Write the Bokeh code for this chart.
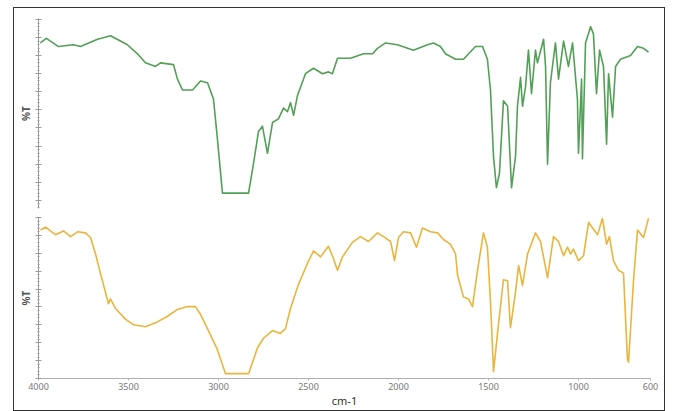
from bokeh.plotting import figure
from bokeh.layouts import column
from bokeh.models import Range1d, FixedTicker, SingleIntervalTicker, CustomJSTickFormatter
from bokeh.embed import file_html
from bokeh.resources import INLINE

# ---- data (wavenumber cm-1, %T) ----
green_wn = [3990, 3956, 3889, 3806, 3767, 3672, 3600, 3506, 3450, 3406, 3350, 3322, 3250, 3228,
            3200, 3144, 3100, 3061, 3028, 3006, 2978, 2833, 2806, 2778, 2756, 2728, 2700, 2667,
            2639, 2617, 2600, 2583, 2561, 2517, 2472, 2422, 2389, 2367, 2339, 2267, 2194, 2144,
            2117, 2072, 2006, 1917, 1839, 1806, 1767, 1739, 1683, 1639, 1572, 1533, 1506, 1489,
            1472, 1456, 1439, 1417, 1394, 1372, 1350, 1339, 1322, 1311, 1294, 1278, 1261, 1239,
            1228, 1194, 1183, 1172, 1156, 1128, 1111, 1083, 1056, 1033, 1006, 1000, 983, 978,
            961, 933, 917, 900, 883, 861, 844, 833, 811, 794, 767, 711, 672, 639, 611]
green_t = [87, 89.5, 85, 86, 85, 89, 91, 86, 81, 76, 74, 76, 75, 67,
           61, 61, 66, 65, 56, 34, 4, 4, 20, 38, 41, 26, 43, 45,
           51, 49, 54, 47, 58, 70, 73, 70, 71, 70, 78.5, 78.5, 81, 81,
           84, 87, 86, 83, 86, 87, 85, 81, 78, 78, 85, 85, 78, 61,
           24, 7, 15, 55, 52, 7, 24, 52, 68, 52, 63, 83, 59, 83,
           76, 89, 74, 20, 65, 87, 67, 88, 74, 87, 56, 26, 67, 23,
           87, 96, 92, 59, 83, 74, 31, 70, 46, 74, 78, 80, 85, 84, 82]

yellow_wn = [3989, 3961, 3906, 3861, 3822, 3783, 3739, 3711, 3683, 3656, 3628, 3611, 3600, 3572,
             3517, 3472, 3406, 3350, 3283, 3228, 3172, 3128, 3100, 3056, 3006, 2961, 2833, 2783,
             2750, 2700, 2656, 2628, 2600, 2556, 2506, 2472, 2433, 2389, 2361, 2339, 2311, 2256,
             2211, 2167, 2117, 2083, 2044, 2022, 2000, 1972, 1933, 1900, 1867, 1822, 1783, 1750,
             1711, 1683, 1672, 1639, 1611, 1589, 1561, 1528, 1506, 1489, 1472, 1450, 1417, 1394,
             1378, 1350, 1333, 1311, 1283, 1239, 1211, 1172, 1139, 1111, 1083, 1061, 1044, 1028,
             1000, 972, 944, 922, 894, 867, 844, 828, 806, 778, 750, 728, 722, 694, 672, 639, 611]
yellow_t = [93, 94.6, 90.4, 92.5, 89.3, 92, 91.4, 88.8, 79.6, 68.9, 58.2, 51.8, 54.5, 49.1,
            43.2, 40, 38.9, 41.1, 44.8, 48.6, 50.2, 50.2, 45.9, 36.8, 26.1, 12.7, 12.7, 27.2,
            32.5, 36.8, 35.2, 37.9, 49.1, 62.5, 74.3, 81.3, 78, 83.9, 77, 70.5, 78, 86.1,
            89.3, 86.6, 91.4, 89.3, 86.6, 75.9, 88.8, 92, 91.4, 83.4, 94.1, 92, 91.4, 87.7,
            85, 79.6, 67.9, 55.5, 54.5, 50.2, 70.5, 91.4, 83.4, 52.9, 13.8, 35.2, 65.2, 64.6,
            38.4, 58.2, 73.2, 62, 79.6, 91.4, 86.6, 66.3, 89.3, 86.6, 78.6, 83.4, 79.6, 82.3,
            75.9, 78.6, 97.3, 94.1, 90.4, 99.5, 85, 89.3, 75.9, 70.5, 68.9, 20.7, 19.1, 65.2, 93, 88.8, 99.5]

x_ticks = [4000, 3500, 3000, 2500, 2000, 1500, 1000, 600]
x_label = "cm-1"
y_label = "%T"

FONT = "Noto Sans"
AXIS_COL = "#9a9a9a"

x_range = Range1d(4000, 600)


def style_y(p):
    p.yaxis.ticker = SingleIntervalTicker(interval=10, num_minor_ticks=5)
    p.yaxis.formatter = CustomJSTickFormatter(code="return ''")
    p.yaxis.major_label_standoff = 0
    p.yaxis.axis_label = y_label
    p.yaxis.axis_label_text_font = FONT
    p.yaxis.axis_label_text_font_size = "10px"
    p.yaxis.axis_label_text_font_style = "bold"
    p.yaxis.axis_label_text_color = "#555555"
    p.yaxis.axis_label_standoff = 3
    p.yaxis.axis_line_color = AXIS_COL
    p.yaxis.major_tick_line_color = AXIS_COL
    p.yaxis.minor_tick_line_color = AXIS_COL
    p.yaxis.major_tick_in = 3
    p.yaxis.major_tick_out = 3
    p.yaxis.minor_tick_in = 1
    p.yaxis.minor_tick_out = 1
    p.grid.visible = False
    p.outline_line_color = None


W = 650
top = figure(width=W, height=205, x_range=x_range, y_range=Range1d(-4.5, 100.5),
             output_backend="svg", toolbar_location=None,
             min_border_left=24, min_border_right=14, min_border_top=10, min_border_bottom=5)
top.xaxis.visible = False
style_y(top)
top.line(green_wn, green_t, line_color="#52a056", line_width=1.6, line_join="round")

bot = figure(width=W, height=197, x_range=x_range, y_range=Range1d(10, 100),
             output_backend="svg", toolbar_location=None,
             min_border_left=24, min_border_right=14, min_border_top=4, min_border_bottom=0)
style_y(bot)
bot.line(yellow_wn, yellow_t, line_color="#e9b53c", line_width=1.6, line_join="round")
bot.xaxis.ticker = FixedTicker(ticks=x_ticks)
bot.xaxis.axis_label = x_label
bot.xaxis.axis_label_text_font = FONT
bot.xaxis.axis_label_text_font_size = "11px"
bot.xaxis.axis_label_text_font_style = "normal"
bot.xaxis.axis_label_text_color = "#333333"
bot.xaxis.axis_label_standoff = 0
bot.xaxis.major_label_text_font = FONT
bot.xaxis.major_label_text_font_size = "9px"
bot.xaxis.major_label_text_color = "#777777"
bot.xaxis.major_label_standoff = 2
bot.xaxis.axis_line_color = "#b0b0b0"
bot.xaxis.major_tick_line_color = "#b0b0b0"
bot.xaxis.major_tick_in = 0
bot.xaxis.major_tick_out = 2
bot.xaxis.minor_tick_line_color = None

layout = column(top, bot, styles={"outline": "1px solid #333333", "background": "white"},
                margin=(8, 0, 0, 14))

open("out.html", "w").write(file_html(layout, INLINE))
